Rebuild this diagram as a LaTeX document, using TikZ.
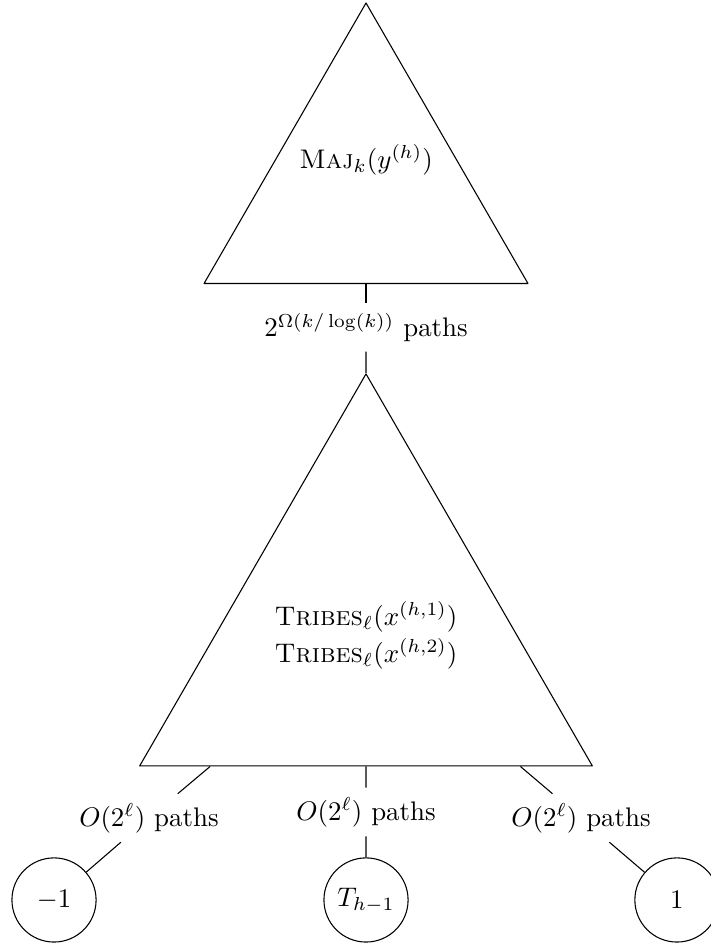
\documentclass[tikz,border=0pt]{standalone}
\usepackage{amsmath,amssymb}
\usetikzlibrary{shapes.geometric}

\begin{document}
\begin{tikzpicture}[join=round] % recursion tree: Maj over Tribes over three leaves
       \tikzset{tri/.style={draw,regular polygon,regular polygon sides=3,inner sep=0pt},
                leaf/.style={draw,circle,minimum size=1.1cm,inner sep=2pt}}
       \useasboundingbox (0,0) rectangle (9.293,-12.404);
       \node[tri,minimum size=4.888cm] (maj) at (4.784,-2.483) {};
       \node (majtxt) at (4.784,-2.091) {$\textsc{Maj}_k(y^{(h)})$};
       \node (top) at (4.784,-4.280) {$2^{\Omega(k/\log(k))}$ paths};
       \node[tri,minimum size=6.832cm,align=center] (tribes) at (4.784,-8.303)
            {$\textsc{Tribes}_\ell(x^{(h,1)})$\\[2pt]$\textsc{Tribes}_\ell(x^{(h,2)})$};
       \node (pl) at (1.947,-10.691) {$O(2^\ell)$ paths};
       \node (pm) at (4.784,-10.613) {$O(2^\ell)$ paths};
       \node (pr) at (7.594,-10.691) {$O(2^\ell)$ paths};
       \node[leaf] (neg) at (0.706,-11.763) {$-1$};
       \node[leaf] (rec) at (4.784,-11.763) {$T_{h-1}$};
       \node[leaf] (pos) at (8.848,-11.763) {$1$};
       \draw (maj)--(top);
       \draw (top)--(tribes);
       \draw (tribes)--(pl) (pl)--(neg);
       \draw (tribes)--(pm) (pm)--(rec);
       \draw (tribes)--(pr) (pr)--(pos);
\end{tikzpicture}
\end{document}
